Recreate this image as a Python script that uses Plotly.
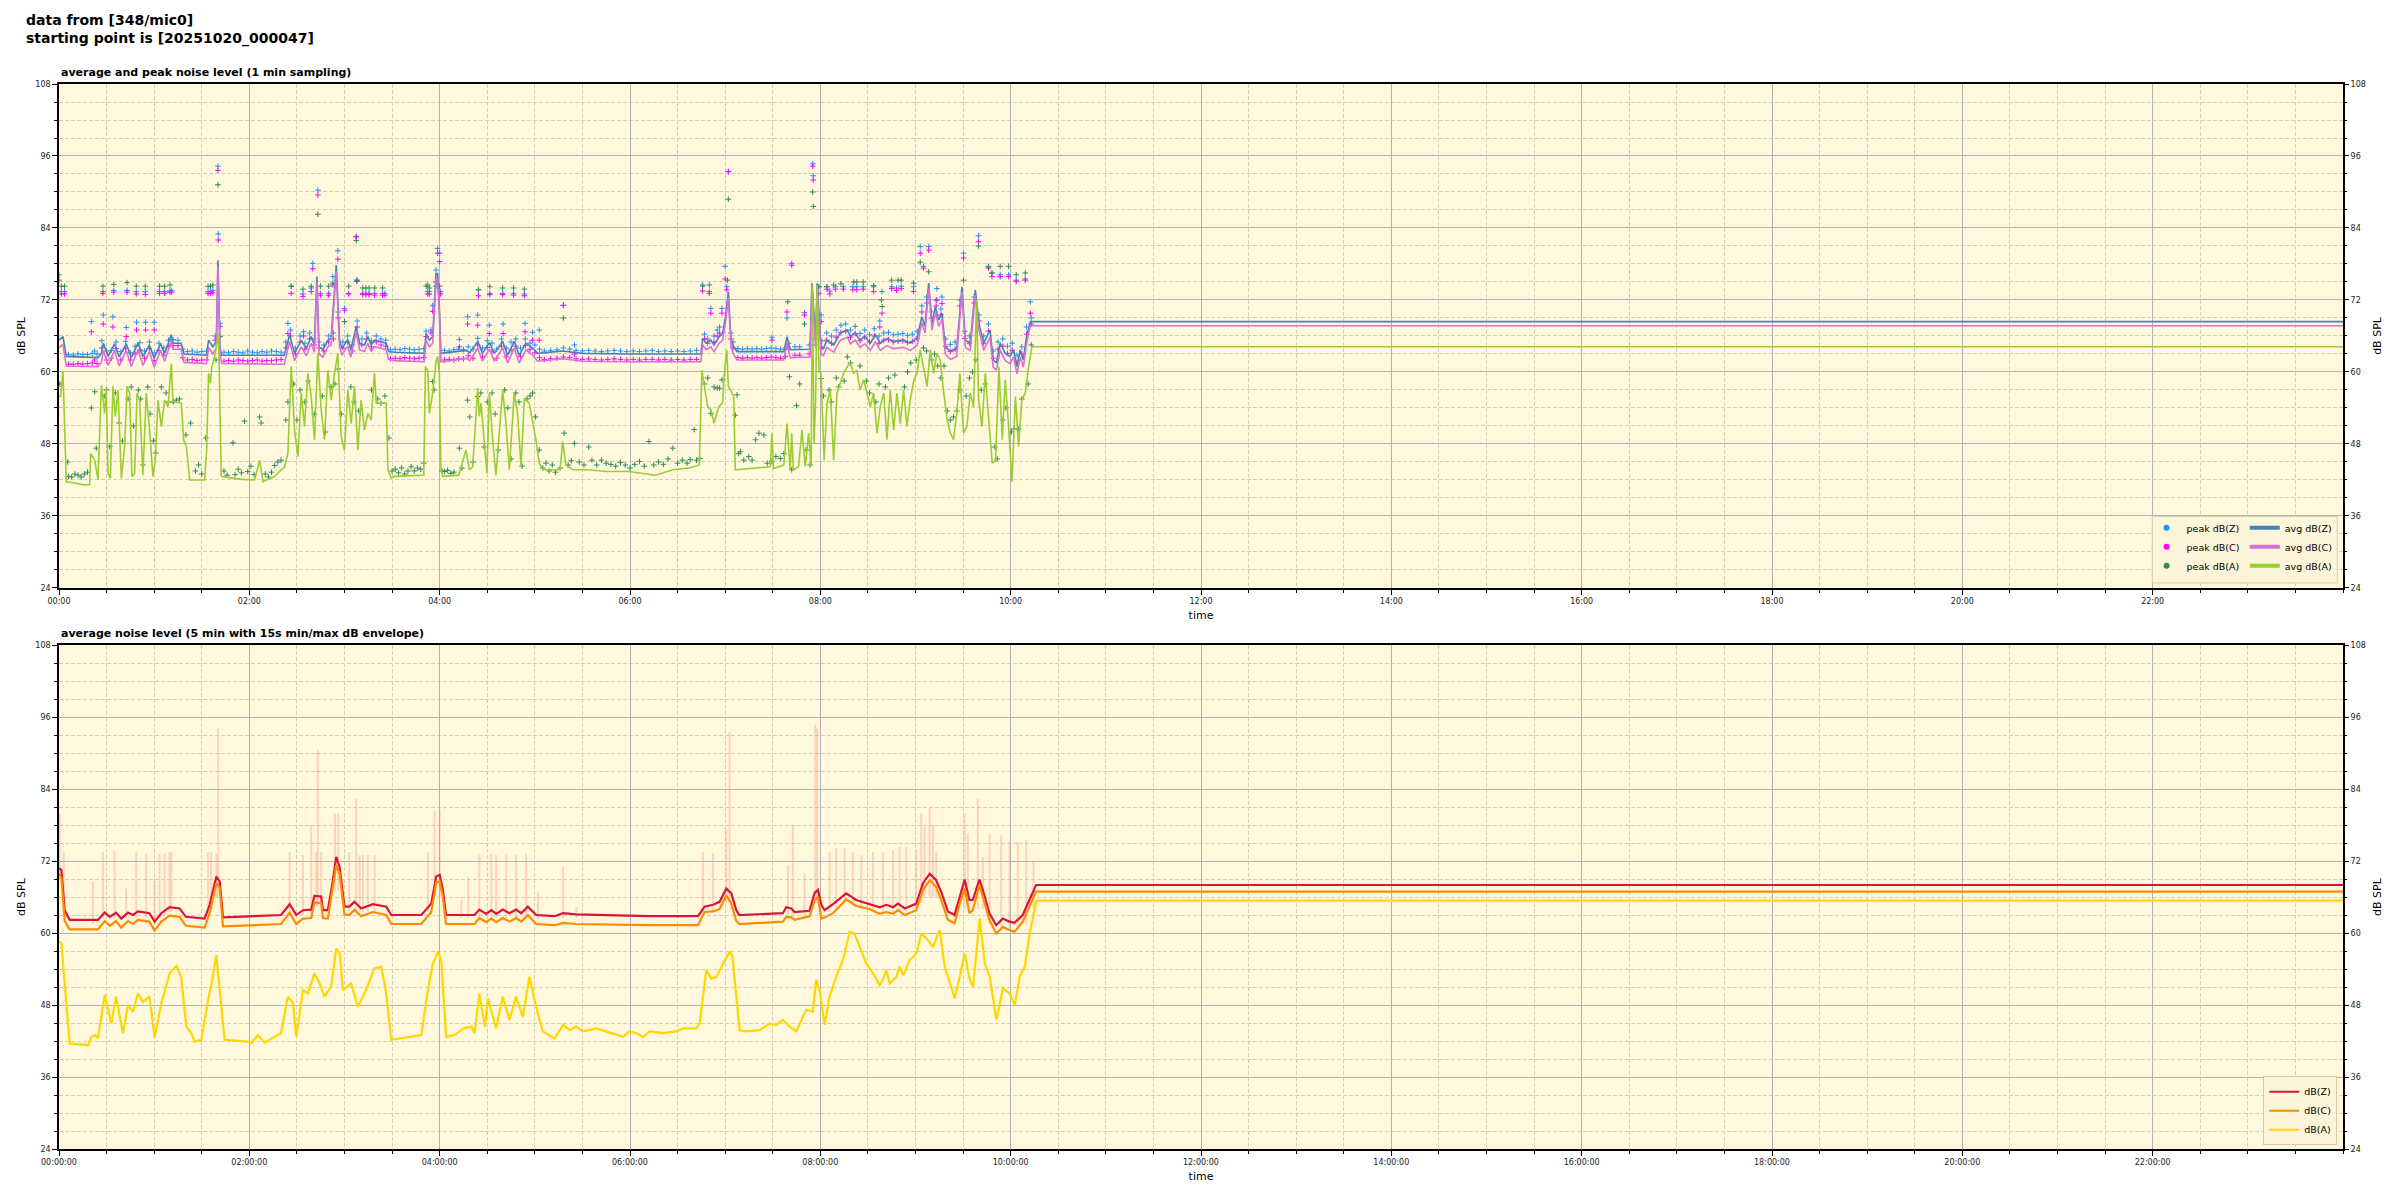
import plotly.graph_objects as go

FONT = "DejaVu Sans"

# ---------------- tick labels ----------------
x_tickvals = [0, 120, 240, 360, 480, 600, 720, 840, 960, 1080, 1200, 1320]
top_ticktext = ["00:00", "02:00", "04:00", "06:00", "08:00", "10:00",
                "12:00", "14:00", "16:00", "18:00", "20:00", "22:00"]
bot_ticktext = ["00:00:00", "02:00:00", "04:00:00", "06:00:00", "08:00:00", "10:00:00",
                "12:00:00", "14:00:00", "16:00:00", "18:00:00", "20:00:00", "22:00:00"]
y_tickvals = [24, 36, 48, 60, 72, 84, 96, 108]

# ---------------- top panel: 1-min averages (minute, dB(Z), dB(C)) ----------------
avg_zc_top = [
    (0, 65.3, 64.0), (2.5, 65.9, 64.6), (4.6, 62.6, 61.0), (24.6, 62.4, 60.9), (26.7, 63.1, 61.6),
    (28, 64.8, 63.6), (31, 62.6, 61.1), (35, 64.7, 63.6), (38, 62.5, 61.0), (42.4, 64.7, 63.6),
    (45.6, 62.4, 60.9), (49.8, 64.8, 63.7), (53, 62.6, 61.1), (57, 64.5, 63.4), (60, 62.3, 60.8),
    (64, 64.7, 63.6), (66.6, 63.1, 61.8), (70.8, 66.2, 65.2), (71.8, 64.8, 63.8), (77, 64.8, 63.8),
    (78.8, 63.0, 61.6), (93, 62.8, 61.4), (94.3, 65.3, 64.1), (97, 64.2, 63.0), (99.2, 65.0, 64.0),
    (100.2, 78.6, 77.6), (101.5, 64.0, 63.0), (102.5, 62.8, 61.4), (142, 62.8, 61.3), (143.3, 64.2, 62.9),
    (145.4, 66.2, 65.1), (148.5, 63.1, 61.9), (152.7, 65.3, 64.2), (156, 63.9, 62.7), (159, 65.9, 64.8),
    (161, 64.5, 63.3), (162.6, 75.9, 74.9), (163.9, 64.2, 63.0), (166.4, 63.7, 62.5), (169.5, 65.3, 64.2),
    (171.6, 65.6, 64.5), (174.8, 77.8, 76.8), (176.9, 65.3, 64.2), (178.4, 63.9, 62.8), (182, 65.4, 64.3),
    (184, 63.7, 62.5), (187.4, 67.6, 66.6), (189.5, 64.8, 63.7), (192.6, 64.5, 63.4), (194.7, 65.9, 64.8),
    (196.8, 64.5, 63.4), (199, 65.3, 64.2), (206.3, 64.8, 63.7), (207.8, 63.4, 62.1),
    (211.5, 63.3, 61.9), (230.3, 63.1, 61.7), (231.4, 66.4, 65.3), (233.5, 65.3, 64.2), (235.6, 65.9, 64.8),
    (237.7, 76.4, 75.3), (238.7, 76.4, 75.4), (239.8, 70.9, 69.8), (240.8, 63.1, 61.7), (256.6, 63.6, 62.3),
    (259, 63.2, 61.9), (264, 65.1, 64.0), (267, 63.1, 61.8), (271.3, 64.9, 63.8), (274.5, 63.1, 61.8),
    (279.7, 65.1, 64.0), (282.9, 62.8, 61.5), (287, 65.1, 64.0), (290.2, 62.8, 61.5), (294.4, 64.8, 63.7),
    (298.6, 64.0, 62.8), (301.8, 63.1, 61.8), (317.5, 63.5, 62.2), (330, 63.1, 61.8), (360, 63.0, 61.7),
    (404.7, 63.0, 61.7), (405.8, 65.6, 64.5), (408, 64.8, 63.7), (411, 65.3, 64.2), (413, 64.5, 63.4),
    (416.3, 65.9, 64.8), (418.4, 66.4, 65.3), (420.5, 69.8, 68.8), (422, 73.4, 72.5),
    (423.7, 65.3, 64.1), (425.4, 64.2, 62.9), (427.5, 63.4, 62.0), (457, 63.4, 62.0), (459, 65.9, 64.8),
    (461, 63.7, 62.4), (473.5, 63.8, 62.5), (474.7, 74.8, 73.9), (477, 65.3, 64.1), (478, 74.8, 73.9),
    (480.4, 64.2, 63.0), (482, 63.9, 62.7), (484, 65.3, 64.1), (488.4, 64.5, 63.3), (492.6, 66.5, 65.3),
    (497, 67.0, 65.8), (499, 65.9, 64.7), (502, 66.5, 65.3), (505, 65.3, 64.1), (508, 65.9, 64.7),
    (511.5, 64.8, 63.6), (514.7, 66.2, 65.0), (517.8, 64.8, 63.6), (522, 65.6, 64.4), (526, 65.1, 63.9),
    (532.5, 65.3, 64.1), (536.7, 64.8, 63.6), (541, 65.6, 64.4), (544, 69.2, 68.2), (546, 67.6, 66.5),
    (548.3, 74.8, 74.0), (550.4, 68.1, 67.0), (552.5, 70.9, 70.0), (554.6, 68.7, 67.6), (556.7, 69.8, 68.8),
    (558.8, 64.2, 63.0), (562, 63.4, 62.1), (566, 63.9, 62.6), (569.3, 74.2, 73.3), (571.4, 65.3, 64.1),
    (574.5, 64.8, 63.6), (577.7, 73.7, 72.8), (580, 68.1, 67.0), (583, 64.8, 63.6), (587, 67.0, 65.8),
    (589, 62.0, 60.8), (591, 61.5, 60.3), (593.4, 64.8, 63.6), (596.6, 63.1, 61.9), (599.7, 62.6, 61.4),
    (601.8, 63.7, 62.5), (604, 60.9, 59.7), (606, 63.7, 62.5), (608, 62.0, 60.8), (610, 65.9, 64.7),
    (612.4, 68.4, 67.7), (615, 68.4, 67.7), (1440, 68.4, 67.7),
]

# (minute, dB(A))
avg_a_top = [
    (0, 55.9), (1, 55.9), (2.5, 60.1), (4.6, 41.7), (10, 41.5), (15, 41.2), (19.3, 41.2), (20, 46.4),
    (22.5, 45.3), (24.6, 42.0), (26.7, 57.8), (28.8, 53.1), (29.8, 57.3), (30.9, 43.1), (32.4, 42.3),
    (34, 57.6), (35.5, 52.6), (37.2, 57.0), (39.3, 42.3), (41.4, 47.6), (42.9, 57.6), (44.5, 56.5),
    (46, 42.6), (47.7, 43.1), (49.2, 56.5), (50.8, 55.3), (52.9, 42.8), (55, 56.5), (57.1, 50.3),
    (59.2, 42.6), (60.7, 45.3), (62.4, 55.3), (64.5, 50.9), (66.6, 55.3), (68.7, 54.2), (70.8, 61.4),
    (71.8, 55.1), (77.1, 54.8), (78.6, 48.7), (80.3, 47.6), (82.4, 42.0), (91.8, 42.0), (93.1, 47.0),
    (94.3, 59.8), (95.4, 58.1), (96.4, 60.9), (98.5, 63.1), (100.6, 66.4), (102.3, 42.6), (114.9, 42.1),
    (123.3, 42.0), (126.5, 45.3), (128.6, 41.7), (135.9, 42.6), (142.2, 44.2), (144.3, 46.4), (146.4, 60.9),
    (148.5, 50.3), (150.6, 45.9), (152.7, 56.5), (154.8, 50.9), (156.9, 59.8), (159, 55.9), (161.1, 48.7),
    (163.2, 63.1), (165.3, 53.7), (167.4, 48.7), (169.5, 60.3), (171.6, 55.3), (173.7, 59.8), (175.8, 63.1),
    (177.9, 49.2), (180, 47.0), (182.1, 57.0), (184.2, 51.4), (186.3, 57.6), (188.4, 47.0), (190.5, 55.3),
    (192.6, 50.3), (194.7, 53.1), (196.8, 52.0), (198.9, 59.8), (200, 54.8), (206.3, 54.8), (207.4, 43.7),
    (209.5, 42.3), (211.5, 42.6), (230, 42.8), (231, 60.9), (232.5, 60.3), (233.5, 53.1), (235.6, 56.5),
    (237.7, 61.7), (238.7, 62.6), (239.8, 59.8), (240.8, 43.7), (242, 42.6), (252, 42.8), (256.6, 47.0),
    (258.7, 43.7), (260.8, 44.2), (264, 57.3), (265, 52.6), (266.1, 54.8), (269.8, 43.1), (271.3, 56.5),
    (273.4, 48.7), (275.5, 42.8), (279.7, 57.0), (281.8, 51.5), (283.9, 43.7), (287, 56.5), (289.1, 53.1),
    (291.3, 44.2), (293.4, 55.6), (296.5, 54.8), (300.7, 48.7), (302.8, 44.8), (305, 43.7), (316, 43.7),
    (317.5, 48.4), (319.6, 44.5), (324, 43.7), (334, 43.7), (345, 43.4), (359.5, 43.4), (376, 42.8),
    (387, 43.7), (397.4, 44.0), (403.7, 44.5), (405.3, 60.3), (409, 54.2), (411, 53.7), (413, 51.5),
    (416, 54.2), (418.4, 54.8), (419.5, 60.0), (421, 63.7), (422, 57.6), (424.4, 56.5), (425.4, 55.9),
    (426.4, 43.7), (448.5, 44.2), (449.5, 49.8), (450.5, 43.9), (457, 44.5), (459, 51.4), (461, 43.7),
    (462, 49.8), (463, 43.7), (466.3, 44.2), (468.4, 50.3), (470.5, 44.2), (472.6, 49.8), (474.2, 44.2),
    (475, 74.5), (476, 48.0), (477, 55.0), (478, 74.5), (479.2, 60.0), (480.4, 59.8), (482.4, 45.3),
    (484.2, 54.8), (486.3, 57.0), (488.4, 45.3), (490.5, 56.5), (492.6, 58.1), (494.7, 59.8), (497, 60.9),
    (499, 61.5), (501, 59.8), (503, 60.3), (505, 57.0), (507.3, 58.7), (509.4, 56.5), (511.5, 54.2),
    (513.6, 56.5), (515.7, 49.8), (517.8, 54.2), (520, 56.5), (522, 48.7), (524.1, 57.0), (526.2, 50.3),
    (528.3, 56.5), (530.4, 51.4), (532.5, 57.0), (534.6, 50.9), (536.7, 55.3), (539, 58.7), (541, 59.8),
    (543, 63.7), (545, 60.9), (547.3, 57.6), (549.3, 63.7), (551.4, 59.8), (553.5, 63.1), (555.6, 62.0),
    (557.8, 56.5), (560, 52.0), (562, 49.8), (564, 48.7), (566, 53.1), (568, 59.8), (570.3, 49.8),
    (572.4, 50.9), (574.5, 56.5), (576.6, 54.2), (578.5, 72.0), (579.8, 55.3), (581.9, 50.9), (584, 59.8),
    (586.2, 52.0), (588.4, 44.8), (590.5, 45.3), (592.6, 60.9), (594.7, 48.7), (596.6, 58.7), (598.7, 50.9),
    (600.8, 41.7), (603, 55.9), (605, 47.6), (607, 55.3), (609.2, 56.5), (611.3, 60.9), (613.4, 64.2),
    (1440, 64.2),
]

# peak levels close to the average lines (minute, peak Z, peak C)
peak_zc_rows = [
    (6, 62.9, 61.3), (9, 62.8, 61.3), (12, 63.0, 61.4), (15, 62.9, 61.3), (18, 62.9, 61.4), (21, 63.1, 61.5),
    (24, 63.0, 61.4), (27, 65.2, 64.0), (30, 63.5, 62.0), (33, 63.6, 62.3), (36, 65.0, 63.9), (39, 63.4, 62.0),
    (42, 65.1, 63.9), (45, 63.2, 62.0), (48, 64.3, 63.0), (51, 64.9, 63.7), (54, 63.5, 62.3), (57, 65.0, 63.9),
    (60, 63.2, 61.9), (63, 64.8, 63.6), (66, 64.0, 62.8), (69, 65.3, 64.2), (72, 65.4, 64.4), (75, 65.3, 64.4),
    (78, 63.8, 62.4), (81, 63.4, 62.0), (84, 63.5, 62.1), (87, 63.3, 61.9), (90, 63.4, 62.0), (93, 63.5, 62.0),
    (104, 63.3, 61.8), (107, 63.2, 61.9), (110, 63.4, 61.8), (113, 63.3, 62.0), (116, 63.2, 61.9),
    (119, 63.5, 61.8), (122, 63.3, 61.9), (125, 63.2, 62.0), (128, 63.4, 61.8), (131, 63.3, 61.9),
    (134, 63.5, 61.9), (137, 63.4, 62.0), (140, 63.3, 62.1), (143, 65.0, 64.0), (146, 67.0, 66.0),
    (149, 64.0, 63.0), (152, 66.0, 65.0), (155, 64.8, 63.8), (158, 66.5, 65.5), (161, 65.5, 64.5),
    (164, 65.0, 64.0), (167, 64.5, 63.5), (170, 66.0, 65.0), (173, 66.5, 65.5), (176, 70.0, 69.0),
    (179, 65.0, 64.0), (182, 66.0, 65.0), (185, 64.5, 63.5), (188, 68.5, 67.5), (191, 65.5, 64.5),
    (194, 66.5, 65.5), (197, 65.2, 64.2), (200, 66.0, 65.0), (203, 65.5, 64.5), (206, 65.3, 64.3),
    (209, 63.7, 62.2), (212, 63.8, 62.3), (215, 63.7, 62.2), (218, 63.9, 62.4), (221, 63.8, 62.3),
    (224, 63.7, 62.2), (227, 63.8, 62.3), (230, 63.9, 62.4), (243, 63.6, 62.0), (246, 63.5, 62.1),
    (249, 63.7, 62.0), (252, 63.8, 62.2), (255, 63.7, 62.2), (258, 64.2, 62.7), (261, 63.8, 62.3),
    (264, 65.6, 64.5), (267, 64.0, 62.5), (270, 65.2, 64.1), (273, 64.8, 63.5), (276, 63.8, 62.3),
    (279, 65.5, 64.3), (282, 64.0, 62.5), (285, 65.0, 63.7), (288, 65.5, 64.3), (291, 64.0, 62.6),
    (294, 65.5, 64.4), (297, 64.8, 63.8), (300, 64.5, 63.2), (303, 63.8, 62.4), (306, 63.5, 62.1),
    (310, 63.6, 62.2), (314, 63.7, 62.3), (318, 64.0, 62.5), (322, 63.8, 62.4), (326, 63.6, 62.2),
    (330, 63.5, 62.1), (334, 63.6, 62.2), (338, 63.5, 62.1), (342, 63.4, 62.0), (346, 63.5, 62.1),
    (350, 63.6, 62.2), (354, 63.5, 62.1), (358, 63.4, 62.0), (362, 63.5, 62.1), (366, 63.4, 62.0),
    (370, 63.5, 62.1), (374, 63.6, 62.1), (378, 63.4, 62.0), (382, 63.5, 62.1), (386, 63.4, 62.0),
    (390, 63.5, 62.1), (394, 63.4, 62.0), (398, 63.5, 62.1), (402, 63.6, 62.1), (428, 63.9, 62.4),
    (431, 63.8, 62.3), (434, 63.9, 62.4), (437, 63.8, 62.3), (440, 63.9, 62.4), (443, 63.8, 62.3),
    (446, 63.9, 62.4), (449, 64.0, 62.5), (452, 63.9, 62.4), (455, 63.8, 62.3), (458, 64.0, 62.6),
    (481, 65.2, 64.0), (484, 66.5, 65.3), (487, 66.0, 64.8), (490, 67.0, 65.8), (493, 67.8, 66.6),
    (496, 68.0, 66.8), (499, 67.0, 65.8), (502, 67.6, 66.4), (505, 66.4, 65.2), (508, 67.0, 65.8),
    (511, 66.2, 65.0), (514, 67.2, 66.0), (517, 66.0, 64.8), (520, 66.5, 65.3), (523, 66.6, 65.4),
    (526, 66.2, 65.0), (529, 66.3, 65.1), (532, 66.4, 65.2), (535, 66.1, 64.9), (538, 66.3, 65.1),
    (541, 66.8, 65.6), (544, 71.0, 70.0), (547, 72.5, 71.5), (550, 70.0, 69.0), (553, 72.0, 71.0),
    (556, 70.5, 69.5), (559, 65.5, 64.3), (562, 64.6, 63.4), (565, 65.0, 63.8), (568, 72.0, 71.0),
    (571, 66.8, 65.6), (574, 66.0, 64.8), (577, 72.5, 71.5), (580, 69.5, 68.5), (583, 66.0, 64.8),
    (586, 68.0, 66.8), (589, 63.5, 62.3), (592, 65.0, 63.8), (595, 65.5, 64.3), (598, 64.3, 63.1),
    (601, 64.8, 63.6), (604, 62.8, 61.6), (607, 64.2, 63.0), (610, 67.5, 66.3), (613, 69.0, 68.0),
]

# isolated peak events (minute, peak Z, peak C)
peak_zc_events = [
    (0, 76.2, 75.3), (1.5, 73.4, 73.0), (3.5, 73.4, 73.0), (20.4, 68.4, 66.7), (22.5, 63.5, 62.0),
    (27.7, 73.4, 73.1), (27.9, 69.5, 68.0), (34, 69.2, 67.5), (34.5, 73.6, 73.3), (42.4, 67.4, 65.9),
    (42.9, 73.6, 73.3), (48.7, 73.4, 73.0), (48.9, 68.3, 67.0), (54.4, 73.4, 72.9), (54.6, 68.3, 67.0),
    (60, 68.3, 67.0), (63.4, 73.4, 73.1), (66.6, 73.4, 73.1), (69.9, 73.5, 73.3), (71, 73.6, 73.3),
    (94, 73.4, 73.1), (95.5, 73.4, 73.1), (97, 73.6, 73.2), (98.5, 66.0, 65.3), (100.2, 94.3, 93.6),
    (100.4, 83.0, 82.0), (101.5, 68.1, 67.6), (144.3, 68.1, 66.4), (146.4, 74.3, 73.1), (153.8, 73.0, 72.6),
    (154.2, 66.7, 66.0), (159, 74.0, 73.4), (160, 78.1, 77.2), (163.2, 90.3, 89.5), (164.8, 73.1, 72.8),
    (170, 73.1, 72.8), (172.7, 75.9, 74.5), (175.8, 80.2, 78.8), (180, 70.6, 70.3), (182.6, 73.1, 73.0),
    (187.4, 82.6, 82.5), (187.8, 75.3, 75.1), (191.5, 73.1, 72.9), (193.5, 73.1, 72.9), (195.5, 73.1, 72.9),
    (199, 73.1, 72.8), (204, 73.1, 72.8), (205.5, 73.1, 72.8), (231.5, 66.8, 65.9), (232.4, 73.4, 73.0),
    (233.5, 73.4, 73.0), (234.5, 67.0, 66.5), (235.6, 71.1, 70.1), (237.7, 77.0, 75.0), (238.7, 80.6, 79.8),
    (240, 79.8, 78.4), (240.6, 73.4, 73.0), (252.4, 65.4, 64.2), (257.6, 69.2, 68.0), (264, 69.5, 67.8),
    (264.5, 73.7, 72.7), (271.3, 67.8, 66.4), (271.6, 73.1, 72.9), (279.7, 73.1, 72.9), (280, 68.0, 66.4),
    (286.6, 73.1, 72.8), (293.4, 73.0, 72.7), (293.8, 68.1, 66.7), (298.6, 66.6, 65.3), (302.8, 67.0, 65.3),
    (318, 71.1, 71.1), (325, 64.5, 63.0), (405.8, 74.5, 73.5), (407, 66.3, 65.5), (409, 65.5, 64.8),
    (410, 73.4, 73.1), (411, 70.6, 69.8), (413, 66.0, 65.0), (415, 67.0, 66.0), (416.5, 67.5, 66.5),
    (418, 70.6, 69.8), (420, 77.6, 75.5), (421, 74.2, 73.7), (422, 93.4, 93.4), (423.5, 66.5, 65.5),
    (425, 65.0, 64.0), (449.5, 65.8, 65.3), (459, 69.0, 70.0), (460, 64.8, 63.8), (462, 78.1, 77.8),
    (464, 64.2, 62.8), (467, 64.2, 62.8), (470, 69.9, 69.5), (473, 64.5, 63.0), (475.2, 94.7, 94.3),
    (475.5, 92.7, 92.0), (477, 65.5, 64.5), (479, 74.2, 73.1), (480.5, 69.5, 68.4), (484.2, 74.2, 73.8),
    (486, 73.5, 73.0), (489.5, 74.2, 73.8), (494.5, 74.2, 73.8), (500.5, 74.2, 73.7), (503, 74.2, 73.7),
    (507, 74.2, 73.8), (513.6, 74.2, 73.4), (517.5, 68.5, 67.5), (518.9, 73.4, 69.8), (525, 74.2, 73.9),
    (528, 74.0, 73.6), (531, 74.3, 73.9), (538.8, 74.2, 73.4), (543, 80.9, 79.8), (545, 77.6, 77.3),
    (548.3, 80.9, 80.3), (553.5, 73.9, 72.0), (556.7, 72.5, 71.4), (570.3, 79.8, 79.0), (579.7, 82.7, 81.7),
    (586, 77.6, 77.3), (588.2, 76.5, 75.9), (593.4, 76.2, 75.9), (598.7, 76.2, 75.9), (603.5, 75.3, 75.1),
    (609.2, 75.5, 75.3), (612.4, 71.7, 69.8),
]

# peak dB(A) (minute, dB)
peak_a_top = [
    (0.5, 58.0), (1.5, 74.3), (3.5, 74.3), (5.5, 45.0), (6, 42.6), (8, 42.5), (10, 43.0), (12, 42.8),
    (14, 42.5), (16, 43.0), (18, 43.3), (20.4, 54.0), (22.5, 56.7), (23.5, 47.3), (27.7, 74.3), (28.5, 56.0),
    (30, 57.0), (32, 47.6), (34.5, 74.6), (35.5, 56.5), (38, 51.5), (40, 48.5), (42.9, 74.9), (43.5, 55.5),
    (45.5, 57.5), (47, 51.0), (48.7, 74.3), (50, 57.0), (51.5, 55.5), (53, 44.5), (54.4, 74.3), (56, 57.5),
    (57.5, 53.0), (59.5, 48.5), (61, 46.5), (63.4, 74.3), (64.5, 57.5), (66.6, 74.3), (67.5, 56.5),
    (69, 55.0), (70, 74.5), (72, 55.0), (74, 55.3), (76, 55.5), (80, 49.5), (83, 51.5), (86, 43.5),
    (88, 44.5), (90, 43.0), (92.5, 49.0), (94, 74.3), (95.5, 74.3), (97, 74.5), (99, 62.0), (100.2, 91.2),
    (101.5, 65.9), (104, 43.5), (106, 42.8), (109.7, 48.2), (111, 42.9), (113, 43.8), (115, 43.2),
    (117, 51.8), (119, 43.4), (121, 44.3), (123, 42.9), (126.5, 52.5), (127.5, 51.5), (130, 43.0),
    (132, 42.5), (134, 43.3), (136, 44.4), (138, 45.0), (140, 45.3), (143, 52.0), (144.3, 55.0),
    (146.4, 74.3), (148, 58.0), (150, 52.0), (152, 57.0), (153.8, 73.8), (155, 55.0), (157, 58.5),
    (159, 74.3), (161, 53.0), (163.2, 86.3), (164.8, 74.3), (166, 56.0), (168, 50.0), (170, 74.3),
    (171.5, 57.5), (172.7, 74.8), (174, 58.0), (176, 60.5), (178, 53.0), (180, 68.4), (182.6, 74.3),
    (184, 57.5), (186, 55.0), (187.4, 81.9), (187.8, 75.3), (189, 53.5), (191.5, 74.0), (193.5, 74.0),
    (195.5, 74.0), (197, 57.0), (199, 74.0), (201, 55.5), (203, 54.8), (204, 74.0), (205.5, 56.0),
    (208, 49.0), (210, 43.5), (212, 43.8), (214, 43.2), (216, 44.0), (218, 43.0), (220, 43.5), (222, 44.2),
    (224, 43.5), (226, 44.0), (228, 43.8), (230, 44.8), (231.5, 74.3), (232.5, 74.5), (233.5, 74.0),
    (235.6, 58.4), (236.5, 57.0), (237.7, 74.3), (240, 74.3), (241.5, 43.5), (243, 43.4), (245, 43.6),
    (247, 43.1), (249, 43.3), (252.4, 47.3), (254, 44.0), (257.6, 55.3), (259, 52.5), (261, 45.0),
    (264, 55.9), (264.5, 73.7), (266, 56.5), (268, 47.5), (270, 55.0), (271.6, 74.2), (273, 56.5),
    (275, 53.0), (277, 47.0), (279.7, 74.0), (281, 57.0), (283, 54.0), (285, 45.5), (286.6, 74.0),
    (288, 56.5), (290, 55.0), (292, 44.3), (293.4, 73.8), (295, 55.5), (297, 56.0), (298.6, 56.5),
    (300.5, 52.5), (302.8, 47.0), (305, 44.0), (307, 44.8), (309, 43.5), (311, 44.5), (313, 43.3),
    (316, 44.0), (318, 69.0), (318.5, 49.8), (321, 44.5), (323, 45.2), (325, 48.1), (328, 45.0),
    (331, 44.5), (334, 47.5), (336, 45.3), (339, 44.5), (342, 45.3), (345, 44.8), (348, 44.6), (351, 44.3),
    (354, 44.9), (357, 44.5), (360, 44.0), (363, 44.6), (366, 45.1), (369, 44.3), (372, 48.4), (375, 44.5),
    (378, 45.0), (381, 44.6), (384, 45.5), (387, 47.3), (390, 44.8), (393, 45.3), (396, 44.8), (398, 45.4),
    (400.5, 50.4), (402, 45.3), (404, 45.6), (405.8, 74.3), (407, 58.0), (409, 59.0), (410, 74.5),
    (411, 53.1), (413, 57.5), (415, 57.3), (416.5, 57.3), (418, 58.7), (421.5, 75.3), (422, 88.8),
    (426.4, 52.8), (427.5, 56.2), (428.5, 46.4), (429.6, 46.7), (431.7, 45.3), (434.9, 45.9), (437, 45.3),
    (439.2, 48.7), (441.3, 49.8), (444.4, 49.5), (446.5, 44.8), (449.5, 45.1), (452, 45.9), (454.8, 45.6),
    (457, 46.4), (459.5, 71.7), (460.5, 59.2), (462, 43.7), (465, 54.4), (467, 58.0), (470, 68.0),
    (471, 47.0), (473.5, 44.5), (475.2, 90.0), (475.6, 87.6), (479, 74.2), (480.5, 58.9), (482, 56.0),
    (484.2, 74.2), (485.5, 57.0), (487, 55.0), (488.4, 74.5), (490, 59.0), (491.5, 57.5), (493, 74.7),
    (495, 58.5), (497, 62.5), (499, 61.5), (501, 75.0), (503, 75.0), (505, 61.0), (507, 75.0), (509, 58.5),
    (511, 56.5), (513.6, 74.4), (515, 55.0), (517, 58.0), (518.5, 72.0), (519, 70.9), (521, 57.5),
    (523, 59.0), (525, 75.3), (527, 59.5), (529, 75.3), (531, 75.3), (533, 57.5), (535, 60.0), (537, 61.5),
    (538.8, 74.8), (540.5, 62.0), (543, 78.3), (545, 64.0), (547, 63.5), (548.3, 76.7), (550, 62.0),
    (552, 63.0), (554, 61.0), (556, 59.0), (558, 61.0), (560, 53.5), (562, 52.0), (564, 52.5), (566, 53.5),
    (568, 57.0), (570.3, 75.3), (572, 56.0), (574, 59.0), (576, 60.0), (578, 62.0), (579.7, 81.0),
    (581.5, 57.0), (584, 58.0), (586, 77.5), (588.2, 76.5), (590, 47.5), (591.5, 45.5), (593.4, 77.6),
    (595, 52.0), (597, 54.0), (598.7, 77.6), (600.5, 50.0), (602, 50.5), (603.5, 76.2), (605, 50.5),
    (607, 55.5), (609.2, 76.5), (611, 58.0), (613, 64.5),
]

# ---------------- bottom panel: 5-min averages (minute, dB(Z), dB(C)) ----------------
avg_zc_bot = [
    (0, 70.8, 69.9), (1.5, 70.5, 69.2), (3.6, 63.8, 62.0), (6.7, 62.2, 60.6), (24.6, 62.2, 60.6),
    (28.8, 63.4, 62.0), (32, 62.7, 61.2), (36, 63.4, 62.0), (39.3, 62.4, 60.9), (43.5, 63.4, 62.0),
    (46.6, 63.0, 61.5), (49.8, 63.6, 62.2), (57, 63.3, 61.9), (60.3, 61.9, 60.4), (64.5, 63.3, 61.9),
    (69.7, 64.3, 62.9), (76, 64.1, 62.7), (80, 62.7, 61.2), (91.8, 62.4, 60.9), (95, 64.7, 63.3),
    (99.2, 69.4, 68.3), (101.3, 68.6, 67.6), (103.4, 62.6, 61.1), (140, 63.0, 61.5), (145.4, 64.8, 63.4),
    (149.6, 63.0, 61.5), (153.8, 63.8, 62.4), (159, 63.9, 62.5), (161, 66.2, 65.1), (165.3, 66.1, 65.0),
    (166.4, 63.8, 62.5), (169.5, 63.8, 62.4), (172.7, 68.8, 67.8), (174.8, 72.7, 71.3), (176.9, 71.0, 69.9),
    (180, 64.4, 63.1), (183, 64.4, 63.0), (186.3, 65.2, 63.9), (190.5, 64.1, 62.8), (197.9, 64.8, 63.5),
    (206.3, 64.4, 63.0), (209.5, 63.0, 61.5), (228.4, 63.0, 61.5), (234.7, 64.9, 63.5), (237.8, 69.4, 68.4),
    (240, 69.7, 68.6), (242, 67.2, 66.0), (244, 63.0, 61.5), (262, 63.0, 61.5), (265, 63.9, 62.5),
    (269.4, 63.2, 61.8), (272.5, 63.8, 62.4), (275.7, 63.2, 61.8), (279.8, 63.9, 62.5), (284, 63.3, 61.9),
    (288.2, 63.9, 62.5), (291.4, 63.3, 61.9), (295.6, 64.4, 63.0), (300.8, 63.0, 61.5), (312.4, 62.8, 61.3),
    (317.8, 63.3, 61.7), (326, 63.1, 61.5), (372, 62.8, 61.3), (402.9, 62.8, 61.3), (407, 64.4, 63.5),
    (412.3, 64.7, 63.6), (416.5, 65.2, 64.0), (420.7, 67.4, 66.3), (423.9, 66.6, 64.9), (427, 63.8, 62.0),
    (429, 63.0, 61.5), (456.4, 63.3, 61.9), (458.5, 64.3, 62.7), (461.7, 64.1, 62.6), (463.8, 63.5, 62.2),
    (473.2, 63.7, 62.8), (476.4, 66.7, 65.5), (478.5, 67.2, 66.0), (480.6, 64.7, 62.4), (482.7, 63.8, 62.6),
    (488, 64.8, 63.3), (496.3, 66.6, 65.6), (502.6, 65.5, 64.5), (511, 64.8, 64.0), (517.4, 64.3, 63.2),
    (521.6, 64.7, 63.5), (525.8, 64.3, 63.2), (529, 64.9, 63.8), (533.2, 64.1, 63.0), (540.5, 64.9, 63.8),
    (544.7, 68.3, 67.2), (549, 69.9, 68.8), (553, 68.8, 67.7), (556.2, 66.9, 65.5), (560.4, 63.6, 62.2),
    (564.6, 63.0, 61.6), (567.8, 66.1, 64.8), (571, 68.9, 67.4), (574, 65.5, 63.3), (576.1, 65.5, 63.8),
    (580.3, 68.9, 68.0), (582.4, 67.2, 66.0), (586.6, 63.3, 62.2), (590.9, 61.3, 59.9), (595, 62.4, 61.0),
    (599.2, 61.9, 60.5), (602.4, 61.7, 60.2), (607.6, 63.0, 61.9), (611.8, 65.5, 64.4), (616, 68.0, 66.9),
    (1440, 68.0, 66.9),
]

avg_a_bot = [
    (0, 58.6), (1.5, 58.3), (6.7, 41.6), (18.3, 41.3), (20.4, 42.7), (23, 43.0), (24.6, 42.4), (28.8, 49.7),
    (33, 44.9), (36, 49.4), (40.3, 43.3), (43.5, 48.0), (46.6, 46.9), (49.8, 49.9), (53, 48.5), (57, 49.4),
    (60.3, 42.6), (64.5, 48.3), (67.6, 51.1), (69.7, 53.3), (74, 54.5), (77, 52.7), (80.3, 44.4),
    (83.4, 43.3), (85.5, 41.9), (89.7, 42.2), (94, 48.8), (97, 52.7), (99.2, 56.3), (101.3, 50.5),
    (104.4, 42.2), (119, 41.9), (121.2, 41.6), (125.4, 43.0), (129.6, 41.7), (133.8, 42.4), (140, 43.3),
    (144.3, 49.4), (147.5, 48.3), (149.6, 42.7), (153.8, 50.5), (157, 49.9), (161, 53.3), (164.3, 51.6),
    (167.4, 49.4), (171.6, 51.1), (174.8, 57.4), (177, 56.6), (179, 50.5), (184.2, 51.6), (188.4, 47.7),
    (193.6, 50.5), (198.9, 54.1), (203.2, 54.4), (206.3, 49.9), (209.5, 42.2), (228.4, 43.0), (232.6, 50.5),
    (235.7, 54.9), (238.9, 56.9), (241, 55.5), (244.1, 42.7), (249.4, 43.0), (255, 44.1), (260, 44.4),
    (262, 43.3), (265, 49.9), (268.5, 44.4), (270.4, 49.1), (275.6, 44.1), (279.8, 49.4), (284, 45.5),
    (288.2, 49.4), (292.4, 46.0), (296.6, 52.7), (300.8, 47.7), (305, 43.6), (312.4, 42.4), (317.8, 44.7),
    (322, 43.8), (326, 44.4), (330.4, 43.6), (338.8, 44.1), (347.2, 43.4), (355.6, 42.7), (359.8, 43.6),
    (364, 43.3), (368.2, 42.7), (372.4, 43.6), (380.8, 43.3), (389.2, 43.6), (393.4, 44.1), (401.8, 44.1),
    (403.9, 44.9), (408.1, 53.8), (411.3, 52.4), (414.5, 52.7), (418.7, 54.9), (422.9, 56.9), (424.6, 56.1),
    (429.1, 43.8), (433.3, 43.6), (441.7, 43.8), (448, 44.9), (452.2, 44.7), (456.4, 45.5), (460.6, 44.4),
    (464.8, 43.6), (471.1, 47.2), (475.3, 46.9), (477.4, 52.2), (479.5, 50.5), (482.7, 44.7), (485.8, 49.4),
    (490, 52.7), (494.3, 55.5), (498.5, 60.2), (501.6, 59.9), (504.8, 57.7), (509, 54.9), (513.2, 53.3),
    (517.4, 51.3), (519.5, 52.2), (521.6, 53.8), (523.7, 51.6), (528, 52.7), (530, 54.4), (532.2, 53.0),
    (536.4, 55.5), (540.6, 56.6), (543.7, 59.9), (547.9, 58.8), (551, 57.7), (555.3, 60.5), (558.4, 54.4),
    (561.6, 51.6), (564.7, 49.1), (567.9, 52.7), (571, 56.6), (574.2, 52.2), (576.3, 51.1), (580.5, 62.4),
    (583.7, 54.9), (586.8, 52.7), (591, 45.5), (595.2, 50.8), (599.4, 49.9), (602.6, 48.0), (605.7, 52.7),
    (608.9, 54.4), (612, 59.9), (616.2, 65.4), (1440, 65.4),
]

# 15 s min/max envelope excursions (minute, envelope min, envelope max)
envelope_bot = [
    (0.4, 69.0, 79.9), (3, 63.0, 73.5), (21.4, 61.5, 68.6), (27.7, 62.5, 73.5), (35.1, 62.5, 73.8),
    (42.4, 62.5, 67.4), (48.7, 62.5, 73.5), (55, 62.5, 73.2), (60.3, 61.5, 68.6), (63.4, 62.5, 73.2),
    (66.6, 63.0, 73.2), (69.7, 63.5, 73.5), (70.8, 63.5, 73.5), (94, 63.0, 73.5), (96, 64.0, 73.5),
    (99.2, 66.0, 73.2), (100.3, 66.0, 94.1), (145.4, 63.5, 73.5), (153.8, 63.0, 73.0), (159, 63.0, 78.0),
    (162.2, 64.5, 73.5), (163.2, 64.5, 90.5), (165.3, 64.5, 73.5), (174, 67.0, 79.9), (176, 67.0, 79.9),
    (183, 63.5, 73.5), (187.4, 64.0, 82.4), (189.5, 63.5, 73.0), (191.6, 63.5, 73.0), (194.7, 63.5, 73.0),
    (199, 63.5, 73.0), (232.6, 63.5, 73.5), (236.8, 66.0, 80.5), (240, 66.0, 80.5), (253.6, 62.5, 65.5),
    (258, 62.5, 69.4), (265, 62.5, 73.0), (272.5, 62.5, 73.2), (275.6, 62.5, 73.0), (282, 62.5, 73.2),
    (288.2, 62.5, 73.0), (294.5, 62.5, 73.2), (302, 62.3, 66.9), (317.8, 62.5, 71.0), (326.2, 62.5, 64.4),
    (406, 63.0, 73.5), (412.3, 63.5, 73.3), (420.7, 65.0, 77.4), (422.8, 65.0, 93.5), (423.9, 64.0, 65.5),
    (459.6, 63.0, 71.3), (462.7, 63.0, 78.0), (470.1, 63.0, 69.9), (476.8, 65.0, 94.7), (478, 65.0, 94.1),
    (485.8, 63.5, 73.5), (490, 64.0, 74.1), (495.3, 65.0, 74.1), (500.5, 64.5, 73.5), (505.8, 64.0, 73.0),
    (513.2, 63.5, 73.5), (519.5, 63.5, 73.5), (525.8, 63.5, 73.8), (530, 63.5, 74.4), (534.2, 63.5, 74.4),
    (540.5, 64.0, 73.8), (543.6, 65.0, 79.9), (545.7, 66.0, 77.7), (548.9, 66.0, 80.8), (551, 66.0, 78.0),
    (553.1, 66.0, 73.5), (571, 64.0, 79.9), (573, 64.0, 76.6), (579.3, 64.0, 82.4), (582.5, 64.0, 72.7),
    (586.7, 61.5, 76.6), (594, 60.5, 76.3), (599.3, 60.5, 75.2), (604.5, 60.5, 75.2), (609.8, 61.5, 75.5),
    (614.4, 64.0, 71.9),
]

# ---------------- colours ----------------
C_PK_Z, C_PK_C, C_PK_A = "#1e90ff", "#ff00ff", "#2e8b57"
C_AV_Z, C_AV_C, C_AV_A = "#4682b4", "#da70d6", "#9acd32"
C_Z, C_C, C_A = "#dc143c", "#ff8c00", "#ffd700"
C_ENV = "rgba(244,150,130,0.36)"
BG = "#fff8dc"


def cols(rows):
    return [list(c) for c in zip(*rows)]


t_zc, z_top, c_top = cols(avg_zc_top)
t_a, a_top = cols(avg_a_top)
t_row, pz_row, pc_row = cols(peak_zc_rows)
t_ev, pz_ev, pc_ev = cols(peak_zc_events)
t_pa, pa = cols(peak_a_top)
t_zcb, z_bot, c_bot = cols(avg_zc_bot)
t_ab, a_bot = cols(avg_a_bot)
t_env, env_lo, env_hi = cols(envelope_bot)

env_x, env_y = [], []
for t, lo, hi in zip(t_env, env_lo, env_hi):
    env_x += [t, t, None]
    env_y += [lo, hi, None]

fig = go.Figure()


def marker(color):
    return dict(symbol="cross-thin", size=4, line=dict(width=1.0, color=color), color=color)


# ---- top panel ----
fig.add_trace(go.Scatter(x=t_row + t_ev, y=pz_row + pz_ev, mode="markers", marker=marker(C_PK_Z),
                         showlegend=False, xaxis="x", yaxis="y"))
fig.add_trace(go.Scatter(x=t_row + t_ev, y=pc_row + pc_ev, mode="markers", marker=marker(C_PK_C),
                         showlegend=False, xaxis="x", yaxis="y"))
fig.add_trace(go.Scatter(x=t_pa, y=pa, mode="markers", marker=marker(C_PK_A),
                         showlegend=False, xaxis="x", yaxis="y"))
fig.add_trace(go.Scatter(x=t_zc, y=z_top, mode="lines", line=dict(color=C_AV_Z, width=1.6),
                         showlegend=False, xaxis="x", yaxis="y"))
fig.add_trace(go.Scatter(x=t_zc, y=c_top, mode="lines", line=dict(color=C_AV_C, width=1.6),
                         showlegend=False, xaxis="x", yaxis="y"))
fig.add_trace(go.Scatter(x=t_a, y=a_top, mode="lines", line=dict(color=C_AV_A, width=1.6),
                         showlegend=False, xaxis="x", yaxis="y"))

# legend entries (top)
for name, col in [("peak dB(Z)", C_PK_Z), ("peak dB(C)", C_PK_C), ("peak dB(A)", C_PK_A)]:
    fig.add_trace(go.Scatter(x=[None], y=[None], mode="markers", name=name,
                             marker=dict(symbol="circle", size=6, color=col),
                             legend="legend", xaxis="x", yaxis="y"))
for name, col in [("avg dB(Z)", C_AV_Z), ("avg dB(C)", C_AV_C), ("avg dB(A)", C_AV_A)]:
    fig.add_trace(go.Scatter(x=[None], y=[None], mode="lines", name=name,
                             line=dict(color=col, width=4),
                             legend="legend2", xaxis="x", yaxis="y"))

# ---- bottom panel ----
fig.add_trace(go.Scatter(x=env_x, y=env_y, mode="lines", line=dict(color=C_ENV, width=2),
                         showlegend=False, xaxis="x2", yaxis="y2", connectgaps=False))
fig.add_trace(go.Scatter(x=t_zcb, y=z_bot, mode="lines", name="dB(Z)", line=dict(color=C_Z, width=2.2),
                         legend="legend3", xaxis="x2", yaxis="y2"))
fig.add_trace(go.Scatter(x=t_zcb, y=c_bot, mode="lines", name="dB(C)", line=dict(color=C_C, width=2.2),
                         legend="legend3", xaxis="x2", yaxis="y2"))
fig.add_trace(go.Scatter(x=t_ab, y=a_bot, mode="lines", name="dB(A)", line=dict(color=C_A, width=2.2),
                         legend="legend3", xaxis="x2", yaxis="y2"))

# right-hand axes carriers
fig.add_trace(go.Scatter(x=[None], y=[None], showlegend=False, xaxis="x", yaxis="y3", hoverinfo="skip"))
fig.add_trace(go.Scatter(x=[None], y=[None], showlegend=False, xaxis="x2", yaxis="y4", hoverinfo="skip"))

TOP_DOM = [0.5268, 1.0]
BOT_DOM = [0.0, 0.4732]
TICKFONT = dict(size=8, color="#222222")
TITLEFONT = dict(size=11, color="black")
MINOR_GRID = "#d6cfb6"
MAJOR_GRID = "#b2b2b2"
DASH = "4px,2px"


def xaxis_cfg(ticktext, anchor):
    return dict(
        range=[0, 1440], domain=[0, 1], anchor=anchor, automargin=False,
        tickmode="array", tickvals=x_tickvals, ticktext=ticktext,
        ticks="outside", ticklen=5, tickwidth=1, tickcolor="black", tickfont=TICKFONT,
        showline=True, linecolor="black", linewidth=1.5, mirror=True,
        showgrid=True, gridcolor=MAJOR_GRID, gridwidth=1.3, zeroline=False,
        minor=dict(tickmode="linear", tick0=0, dtick=30, ticks="outside", ticklen=3,
                   tickcolor="black", showgrid=True, gridcolor=MINOR_GRID, griddash=DASH,
                   gridwidth=0.8),
        title=dict(text="time", font=TITLEFONT, standoff=6),
    )


def yaxis_cfg(domain, anchor):
    return dict(
        range=[24, 108], domain=domain, anchor=anchor, automargin=False,
        tickmode="array", tickvals=y_tickvals,
        ticks="outside", ticklen=5, tickwidth=1, tickcolor="black", tickfont=TICKFONT,
        showline=True, linecolor="black", linewidth=1.5, mirror=True,
        showgrid=True, gridcolor=MAJOR_GRID, gridwidth=1.3, zeroline=False,
        minor=dict(tickmode="linear", tick0=24, dtick=3, ticks="outside", ticklen=3,
                   tickcolor="black", showgrid=True, gridcolor=MINOR_GRID, griddash=DASH,
                   gridwidth=0.8),
        title=dict(text="dB SPL", font=TITLEFONT, standoff=8),
    )


def yaxis_right(over, anchor):
    return dict(
        range=[24, 108], overlaying=over, side="right", anchor=anchor, automargin=False,
        tickmode="array", tickvals=y_tickvals,
        ticks="outside", ticklen=5, tickwidth=1, tickcolor="black", tickfont=TICKFONT,
        showline=False, showgrid=False, zeroline=False,
        minor=dict(tickmode="linear", tick0=24, dtick=3, ticks="outside", ticklen=3,
                   tickcolor="black", showgrid=False),
        title=dict(text="dB SPL", font=TITLEFONT, standoff=8),
    )


LEG_FONT = dict(size=9.5, color="black")

fig.update_layout(
    width=2400, height=1200,
    margin=dict(l=59, r=57, t=84, b=51, autoexpand=False),
    paper_bgcolor="white", plot_bgcolor=BG,
    font=dict(family=FONT, color="black"),
    xaxis=xaxis_cfg(top_ticktext, "y"),
    yaxis=yaxis_cfg(TOP_DOM, "x"),
    xaxis2=xaxis_cfg(bot_ticktext, "y2"),
    yaxis2=yaxis_cfg(BOT_DOM, "x2"),
    yaxis3=yaxis_right("y", "x"),
    yaxis4=yaxis_right("y2", "x2"),
    legend=dict(x=0.914, xanchor="left", y=0.534, yanchor="bottom", bgcolor="rgba(0,0,0,0)",
                borderwidth=0, font=LEG_FONT, tracegroupgap=0),
    legend2=dict(x=0.957, xanchor="left", y=0.534, yanchor="bottom", bgcolor="rgba(0,0,0,0)",
                 borderwidth=0, font=LEG_FONT, tracegroupgap=0),
    legend3=dict(x=0.9975, xanchor="right", y=0.0035, yanchor="bottom", bgcolor="#fdf5da",
                 bordercolor="#dccaa0", borderwidth=1, font=LEG_FONT, tracegroupgap=0),
    shapes=[dict(type="rect", xref="paper", yref="paper", x0=0.9165, x1=0.9975, y0=0.5315, y1=0.594,
                 fillcolor="#fdf5da", line=dict(color="#dccaa0", width=1), layer="above")],
    annotations=[
        dict(text="<b>data from [348/mic0]<br>starting point is [20251020_000047]</b>",
             xref="paper", yref="paper", x=-0.0153, y=1.0695, xanchor="left", yanchor="top",
             align="left", showarrow=False, font=dict(size=14)),
        dict(text="<b>average and peak noise level (1 min sampling)</b>", xref="paper", yref="paper",
             x=0, y=TOP_DOM[1], xanchor="left", yanchor="bottom", yshift=3, showarrow=False,
             font=dict(size=11)),
        dict(text="<b>average noise level (5 min with 15s min/max dB envelope)</b>", xref="paper",
             yref="paper", x=0, y=BOT_DOM[1], xanchor="left", yanchor="bottom", yshift=3,
             showarrow=False, font=dict(size=11)),
    ],
    showlegend=True,
)

fig.write_html("out.html", config={"displayModeBar": False},
               post_script="document.body.style.margin='0';")
